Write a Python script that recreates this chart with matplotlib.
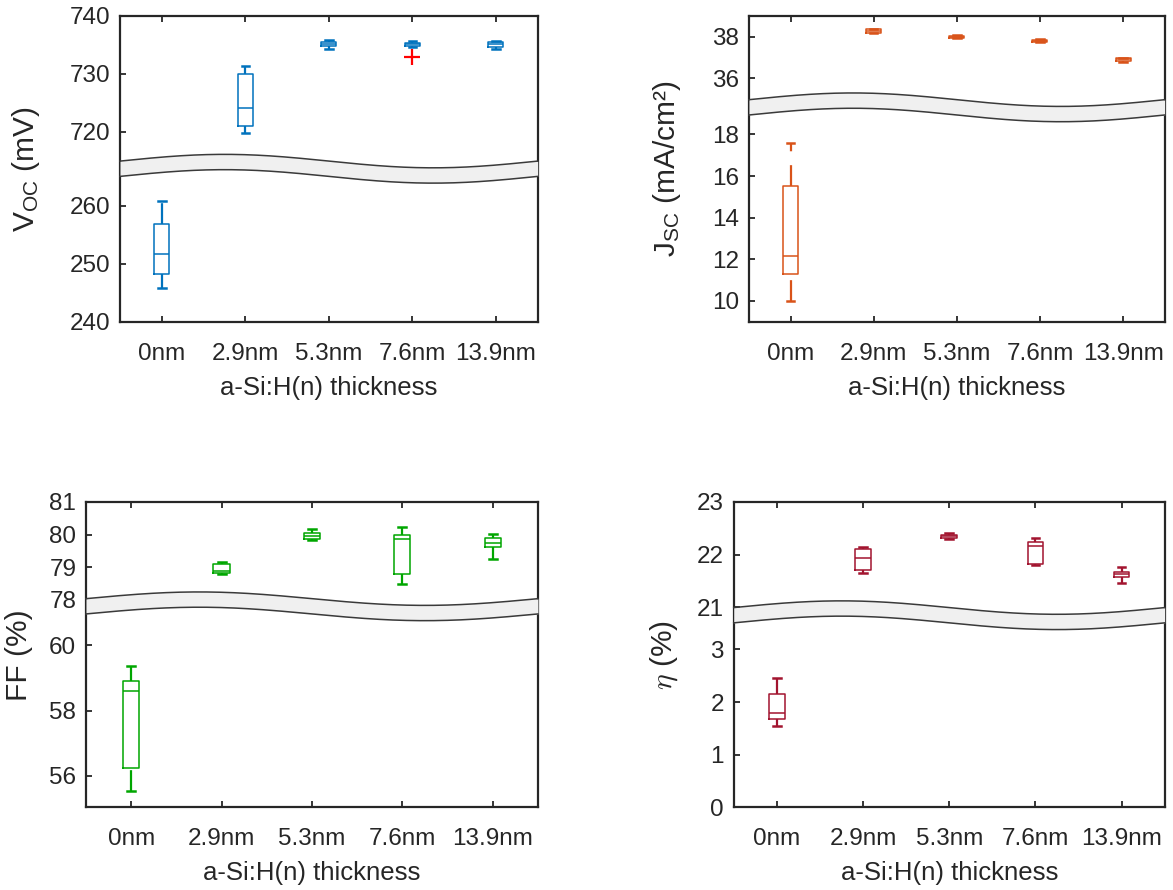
import numpy as np
import matplotlib
matplotlib.use("Agg")
import matplotlib.pyplot as plt

plt.rcParams['font.family'] = ['Liberation Sans', 'DejaVu Sans']
plt.rcParams['mathtext.fontset'] = 'custom'
plt.rcParams['mathtext.rm'] = 'Liberation Sans'
plt.rcParams['mathtext.it'] = 'Liberation Sans:italic'
plt.rcParams['lines.scale_dashes'] = False

# categories
thickness = ["0nm", "2.9nm", "5.3nm", "7.6nm", "13.9nm"]

# Voc (mV)
voc_whislo = [245.9, 719.7, 734.2, 734.6, 734.2]
voc_q1 = [248.2, 721.0, 734.7, 734.7, 734.6]
voc_med = [251.7, 724.0, 735.2, 735.1, 735.1]
voc_q3 = [256.9, 730.0, 735.5, 735.3, 735.4]
voc_whishi = [260.8, 731.4, 735.9, 735.6, 735.7]
voc_fliers = [[], [], [], [732.8], []]

# Jsc (mA/cm2)
jsc_whislo = [9.99, 38.15, 37.93, 37.72, 36.77]
jsc_q1 = [11.27, 38.18, 37.95, 37.74, 36.85]
jsc_med = [12.16, 38.26, 38.0, 37.79, 36.91]
jsc_q3 = [15.53, 38.34, 38.05, 37.84, 36.97]
jsc_whishi = [17.58, 38.37, 38.07, 37.86, 36.99]

# FF (%)
ff_whislo = [55.54, 78.78, 79.82, 78.48, 79.24]
ff_q1 = [56.23, 78.83, 79.85, 78.80, 79.61]
ff_med = [58.61, 78.87, 79.95, 79.85, 79.75]
ff_q3 = [58.92, 79.09, 80.06, 79.99, 79.89]
ff_whishi = [59.38, 79.17, 80.18, 80.24, 80.01]

# efficiency (%)
eta_whislo = [1.54, 21.66, 22.30, 21.81, 21.47]
eta_q1 = [1.68, 21.71, 22.31, 21.83, 21.58]
eta_med = [1.80, 21.94, 22.35, 22.17, 21.63]
eta_q3 = [2.16, 22.10, 22.38, 22.24, 21.67]
eta_whishi = [2.46, 22.15, 22.41, 22.32, 21.76]


def broken_scale(lo_top, hi_bot):
    gap = hi_bot - lo_top

    def fwd(v):
        v = np.asarray(v, dtype=float)
        return np.where(v <= lo_top, v, np.where(v >= hi_bot, v - gap, lo_top))

    def inv(u):
        u = np.asarray(u, dtype=float)
        return np.where(u <= lo_top, u, u + gap)
    return fwd, inv


def panel(rect, color, whislo, q1, med, q3, whishi, fliers, limits, yticks, ylabel, label_x, math_font=None):
    ax = fig.add_axes(rect)
    lo_bot, lo_top, hi_bot, hi_top = limits
    ax.set_yscale('function', functions=broken_scale(lo_top, hi_bot))
    stats = []
    for i in range(len(thickness)):
        stats.append(dict(whislo=whislo[i], q1=q1[i], med=med[i], q3=q3[i],
                          whishi=whishi[i], fliers=fliers[i]))
    parts = ax.bxp(stats, positions=range(1, 6), widths=0.18, capwidths=0.09,
                   boxprops=dict(color=color, lw=1.1),
                   medianprops=dict(color=color, lw=1.1),
                   whiskerprops=dict(color=color, lw=1.6, linestyle=(0, (15, 10))),
                   capprops=dict(color=color, lw=1.8),
                   flierprops=dict(marker='+', markeredgecolor='#ff0000', markersize=12, mew=1.6))
    # lower whiskers are dashed starting from the cap end (as in MATLAB)
    for i, ln in enumerate(parts['whiskers'][0::2]):
        xs = ln.get_xdata()
        ln.set_data(xs, [whislo[i], q1[i]])
    ax.set_xlim(0.5, 5.5)
    ax.set_ylim(lo_bot, hi_top)
    ax.set_xticks(range(1, 6))
    ax.set_xticklabels(thickness)
    ax.set_yticks(yticks)
    ax.set_yticklabels([str(t) for t in yticks])
    ax.tick_params(axis='both', direction='in', length=4, width=1.3, labelsize=17.5,
                   colors='#262626', pad=7)
    ax.tick_params(axis='x', top=True, pad=15)
    for s in ax.spines.values():
        s.set_linewidth(1.6)
        s.set_color('#262626')
    ax.set_xlabel("a-Si:H(n) thickness", fontsize=18.5, color='#262626', labelpad=8)
    if math_font:
        ax.set_ylabel(ylabel, fontsize=21.5, color='#262626', math_fontfamily=math_font)
    else:
        ax.set_ylabel(ylabel, fontsize=21.5, color='#262626')
    ax.yaxis.set_label_coords(label_x, 0.5)

    # wavy break band
    brk = (lo_top - lo_bot) / ((lo_top - lo_bot) + (hi_top - hi_bot))
    x = np.linspace(0, 1, 300)
    yc = brk + 0.022 * np.sin(2 * np.pi * x)
    up = yc + 0.025
    dn = yc - 0.025
    ax.fill_between(x, dn, up, transform=ax.transAxes, color='#f0f0f0',
                    zorder=5, clip_on=False, lw=0)
    ax.plot(x, up, transform=ax.transAxes, color='#3a3a3a', lw=1.1, zorder=6, clip_on=False)
    ax.plot(x, dn, transform=ax.transAxes, color='#3a3a3a', lw=1.1, zorder=6, clip_on=False)
    ax.set_xlim(0.5, 5.5)
    ax.set_ylim(lo_bot, hi_top)
    return ax


fig = plt.figure(figsize=(11.73, 8.90), dpi=100)

panel([0.1023, 0.6385, 0.3561, 0.3438], '#0072BD',
      voc_whislo, voc_q1, voc_med, voc_q3, voc_whishi, voc_fliers,
      (240, 266.4, 713.6, 740), [240, 250, 260, 720, 730, 740],
      r'V$_{\mathrm{OC}}$ (mV)', -0.187)

panel([0.6385, 0.6385, 0.3544, 0.3438], '#D95319',
      jsc_whislo, jsc_q1, jsc_med, jsc_q3, jsc_whishi, [[]] * 5,
      (9.0, 19.3, 34.6, 39.0), [10, 12, 14, 16, 18, 36, 38],
      r'J$_{\mathrm{SC}}$ (mA/cm²)', -0.159)

panel([0.0733, 0.0927, 0.3853, 0.3433], '#00A600',
      ff_whislo, ff_q1, ff_med, ff_q3, ff_whishi, [[]] * 5,
      (55.03, 61.2, 77.8, 81.0), [56, 58, 60, 78, 79, 80, 81],
      'FF (%)', -0.117)

panel([0.6255, 0.0927, 0.3674, 0.3433], '#A2142F',
      eta_whislo, eta_q1, eta_med, eta_q3, eta_whishi, [[]] * 5,
      (0, 3.65, 20.85, 23), [0, 1, 2, 3, 21, 22, 23],
      r'$\eta$ (%)', -0.125, math_font='cm')

fig.savefig("out.png", dpi=100)
